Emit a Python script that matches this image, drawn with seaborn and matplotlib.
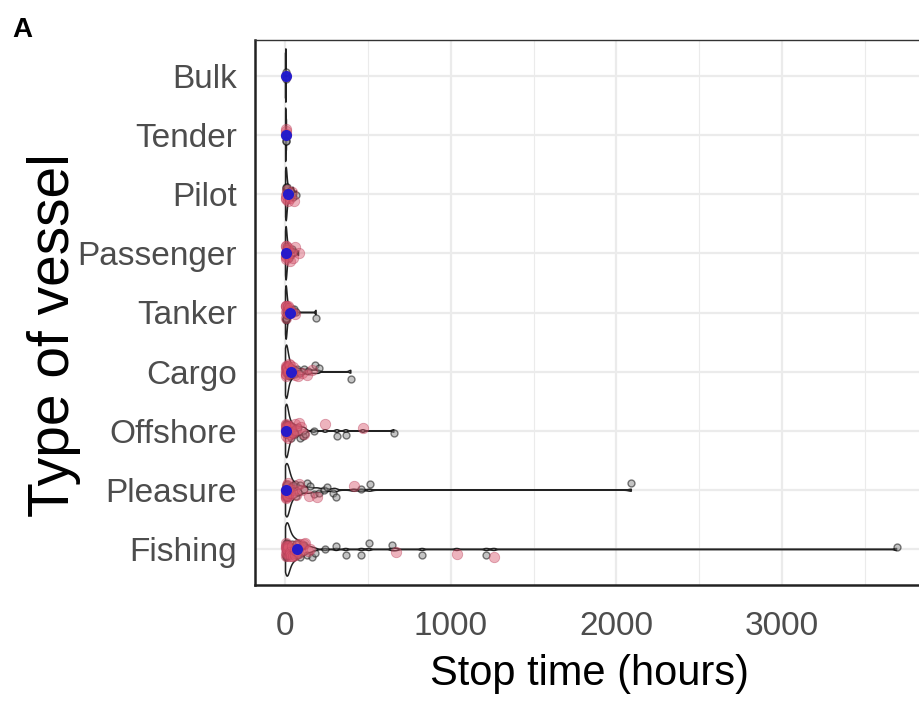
import numpy as np
import pandas as pd
import matplotlib
matplotlib.use("Agg")
import matplotlib.pyplot as plt
from matplotlib.ticker import MultipleLocator, FixedLocator
import seaborn as sns

# ---------------- data ----------------
vessel_types = ["Bulk", "Tender", "Pilot", "Passenger", "Tanker",
                "Cargo", "Offshore", "Pleasure", "Fishing"]

# stop times (hours), dark points
dark_hours = {
    "Bulk": [1, 2, 3],
    "Tender": [1, 2, 4],
    "Pilot": [1, 2, 3, 5, 7, 10, 20, 30, 45, 65],
    "Passenger": [0.5, 1, 2, 3, 4, 6, 8, 10, 15, 22, 30, 40, 50],
    "Tanker": [0.5, 1, 2, 3, 4, 5, 6, 8, 10, 12, 18, 25, 32, 40, 50, 65, 185],
    "Cargo": [0.5, 1, 2, 3, 4, 5, 6, 8, 10, 12, 15, 20, 27, 35, 45, 55, 70,
              90, 110, 139, 180, 200, 395],
    "Offshore": [0.5, 1, 1.5, 2, 3, 4, 5, 6, 7, 9, 12, 16, 20, 25, 32, 40, 50,
                 60, 75, 90, 105, 120, 170, 311, 365, 655],
    "Pleasure": [0.5, 1, 1.5, 2, 2.5, 3, 4, 5, 6, 7, 8, 9, 12, 15, 20, 25, 30,
                 38, 45, 55, 65, 75, 90, 110, 130, 150, 170, 200, 230, 250,
                 290, 303, 459, 509, 2090],
    "Fishing": [0.5, 1, 1.5, 2, 3, 4, 5, 6, 7, 8, 10, 12, 15, 18, 20, 24, 28,
                32, 36, 40, 45, 50, 55, 62, 70, 78, 85, 95, 105, 115, 130, 160,
                180, 240, 307, 365, 459, 505, 644, 826, 1214, 3693],
}
# stop times (hours), pink points
pink_hours = {
    "Bulk": [2.5],
    "Tender": [1.5, 3, 5, 6],
    "Pilot": [1.5, 3, 4, 8, 15, 25, 40, 50],
    "Passenger": [1, 2, 3, 4, 5, 8, 12, 18, 25, 35, 45, 60, 79],
    "Tanker": [1, 2, 3, 4, 6, 10, 15, 22, 30, 42, 55],
    "Cargo": [1, 1.5, 2, 3, 4, 5, 7, 8, 12, 18, 24, 30, 38, 48, 60, 75, 100,
              130, 160],
    "Offshore": [0.5, 1, 2, 3, 4, 5, 6, 8, 11, 15, 19, 24, 30, 38, 46, 55, 65,
                 80, 95, 115, 240, 468],
    "Pleasure": [0.5, 1, 2, 3, 4, 5, 6, 8, 10, 14, 18, 24, 30, 40, 50, 62, 80,
                 100, 140, 190, 412],
    "Fishing": [1, 2, 3, 4, 5, 6, 7, 9, 11, 14, 17, 21, 25, 30, 35, 42, 48, 55,
                60, 68, 75, 82, 90, 100, 110, 120, 135, 150, 670, 1035, 1260],
}
# blue summary point per vessel type (hours)
summary_hours = [2, 3, 15, 5, 28, 36, 6, 3, 67]

x_ticks = [0, 1000, 2000, 3000]

# ---------------- frames ----------------
rows = []
for v in vessel_types:
    for h in dark_hours[v]:
        rows.append((v, h, "dark"))
    for h in pink_hours[v]:
        rows.append((v, h, "pink"))
df = pd.DataFrame(rows, columns=["vessel", "hours", "group"])
df_dark = df[df.group == "dark"]
df_pink = df[df.group == "pink"]
df_sum = pd.DataFrame({"vessel": vessel_types, "hours": summary_hours})


def nrd0(kde):
    d = kde.dataset[0]
    sd = d.std(ddof=1)
    q75, q25 = np.percentile(d, [75, 25])
    lo = min(sd, (q75 - q25) / 1.34) if q75 > q25 else sd
    h = 0.9 * lo * len(d) ** -0.2
    return h / sd


# ---------------- style ----------------
sns.set_style("white")
plt.rcParams["font.family"] = ["Liberation Sans", "DejaVu Sans"]

fig = plt.figure(figsize=(9.2, 7.14), dpi=100)
ax = fig.add_axes([255 / 920, 1 - 585 / 714, 672 / 920, 545 / 714])

np.random.seed(3)
sns.violinplot(data=df, x="hours", y="vessel", order=vessel_types, orient="h",
               density_norm="width", cut=0, fill=False, color="#222222",
               linewidth=1.1, inner=None, bw_method=nrd0, bw_adjust=0.5,
               gridsize=4000, width=0.9, ax=ax)
sns.stripplot(data=df_dark, x="hours", y="vessel", order=vessel_types,
              orient="h", jitter=0.13, color="#8A8A8A", alpha=0.5, size=5,
              linewidth=1.0, edgecolor="black", ax=ax, zorder=3)
sns.stripplot(data=df_pink, x="hours", y="vessel", order=vessel_types,
              orient="h", jitter=0.13, color="#D9576E", alpha=0.45, size=7.5,
              linewidth=0.6, edgecolor="#B83C58", ax=ax, zorder=4)
sns.stripplot(data=df_sum, x="hours", y="vessel", order=vessel_types,
              orient="h", jitter=False, color="#1515D5", alpha=0.9, size=8,
              linewidth=0, ax=ax, zorder=5)

ax.set_xlim(-184, 3877)
ax.set_ylim(len(vessel_types) - 0.4, -0.6)
ax.xaxis.set_major_locator(FixedLocator(x_ticks))
ax.xaxis.set_minor_locator(MultipleLocator(500))
ax.grid(True, which="major", color="#EBEBEB", linewidth=1.6)
ax.grid(True, which="minor", axis="x", color="#EBEBEB", linewidth=0.8)
ax.set_axisbelow(True)
ax.set_xlabel("")
ax.set_ylabel("")

for s in ["left", "bottom"]:
    ax.spines[s].set_color("#222222")
    ax.spines[s].set_linewidth(1.8)
ax.spines["top"].set_color("#333333")
ax.spines["top"].set_linewidth(1.0)
ax.spines["right"].set_visible(False)

ax.tick_params(axis="both", which="major", length=7, width=1.5,
               color="#333333", labelcolor="#4D4D4D", labelsize=24)
ax.tick_params(axis="x", which="major", pad=12)
ax.tick_params(axis="y", which="major", pad=6)
ax.tick_params(axis="x", which="minor", length=0)

fig.text(590 / 920, 1 - 685 / 714, "Stop time (hours)", fontsize=30,
         ha="center", va="baseline", color="black")
fig.text(54 / 920, 1 - 335 / 714, "Type of vessel", fontsize=41,
         rotation=90, ha="center", va="center", color="black")
fig.text(12 / 920, 1 - 17 / 714, "A", fontsize=20, fontweight="bold",
         ha="left", va="top", color="black")

fig.savefig("out.png", dpi=100)
